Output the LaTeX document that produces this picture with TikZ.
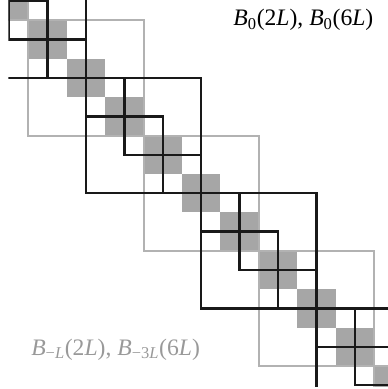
\documentclass[tikz,border=0pt]{standalone}
\usepackage{fontspec}
\setmainfont{Liberation Serif}
\usepackage{tikz}

\tikzset{
  boxblack/.style={line width=1.7pt, black!90},
  boxgray/.style={line width=1.5pt, black!30},
  cellgray/.style={fill=black!35},
  blocklabel/.style={font=\fontsize{17.5}{20}\selectfont, inner sep=0pt, anchor=base},
}
\newcommand{\blockB}[1]{\textit{B}\textsubscript{#1}}

\begin{document}
\begin{tikzpicture}[x=0.5cm, y=-0.5cm]
\useasboundingbox (-4.48,-4.06) rectangle (15.68,16.2);

\begin{scope}
    \clip (-4.05,-4.05) rectangle (16.05,16.05);

    % gray cells: B_{-L}(2L)
    \foreach \k in {-2,...,8}
        \fill[cellgray] (2*\k-1,2*\k-1) rectangle ++(2,2);

    % gray boxes: B_{-3L}(6L)
    \foreach \k in {-1,...,3}
        \draw[boxgray] (6*\k-3,6*\k-3) rectangle ++(6,6);

    % black boxes: B_0(2L)
    \foreach \k in {-2,...,7}
        \draw[boxblack] (2*\k,2*\k) rectangle ++(2,2);

    % black boxes: B_0(6L)
    \foreach \k in {-1,...,2}
        \draw[boxblack] (6*\k,6*\k) rectangle ++(6,6);
\end{scope}

\node[blocklabel] (black label) at (11.32,-2.72)
    {\blockB{0}(2\textit{L}), \blockB{0}(6\textit{L})};
\node[blocklabel, text=black!40] (gray label) at (1.54,14.43)
    {\blockB{−\textit{L}}(2\textit{L}), \blockB{−3\textit{L}}(6\textit{L})};
\end{tikzpicture}
\end{document}
